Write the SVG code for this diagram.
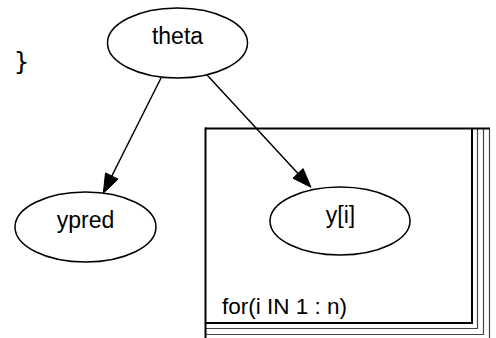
<svg xmlns="http://www.w3.org/2000/svg" width="496" height="338" viewBox="0 0 496 338">
<style>
.node ellipse{fill:#fff;stroke:#000;stroke-width:1.5}
.lbl{font-family:"Liberation Sans",Arial,sans-serif;font-size:23px;fill:#000;text-anchor:middle}
.edge{stroke:#000;stroke-width:1.5;fill:none}
.head{fill:#000;stroke:#000;stroke-width:1}
.plate{fill:none;stroke:#000;stroke-width:2}
.stack{fill:none;stroke:#444;stroke-width:1.2}
</style>
<rect width="496" height="338" fill="#fff"/>
<text x="14" y="70" style="font-family:'DejaVu Sans Mono','Liberation Mono',monospace;font-size:25px">}</text>
<g id="plate">
<polyline class="stack" points="205,328.5 477.5,328.5 477.5,128"/>
<polyline class="stack" points="205,334.5 483.5,334.5 483.5,128"/>
<polyline class="stack" points="489.5,128 489.5,338"/>
<line class="plate" x1="205" y1="128.5" x2="490" y2="128.5"/>
<line class="plate" x1="205.5" y1="127.5" x2="205.5" y2="338"/>
<polyline class="plate" points="205,323 472,323 472,128"/>
<text x="222" y="314" style="font-family:'Liberation Sans',Arial,sans-serif;font-size:22.5px">for(i IN 1 : n)</text>
</g>
<g id="connectors">
<line class="edge" x1="161" y1="78" x2="111.8" y2="176"/>
<polygon class="head" points="118.1,179.1 105.5,172.9 103.3,193.3"/>
<line class="edge" x1="207.3" y1="75.3" x2="298" y2="173.4"/>
<polygon class="head" points="292.9,178.2 303.1,168.6 311,187.3"/>
</g>
<g id="theta" class="node">
<ellipse cx="177.5" cy="43" rx="70" ry="35"/>
<text class="lbl" x="177.5" y="44">theta</text>
</g>
<g id="ypred" class="node">
<ellipse cx="85.5" cy="227" rx="70.5" ry="35"/>
<text class="lbl" x="85.5" y="228">ypred</text>
</g>
<g id="y" class="node">
<ellipse cx="340" cy="221" rx="70" ry="34"/>
<text class="lbl" x="340.5" y="223">y[i]</text>
</g>
</svg>
